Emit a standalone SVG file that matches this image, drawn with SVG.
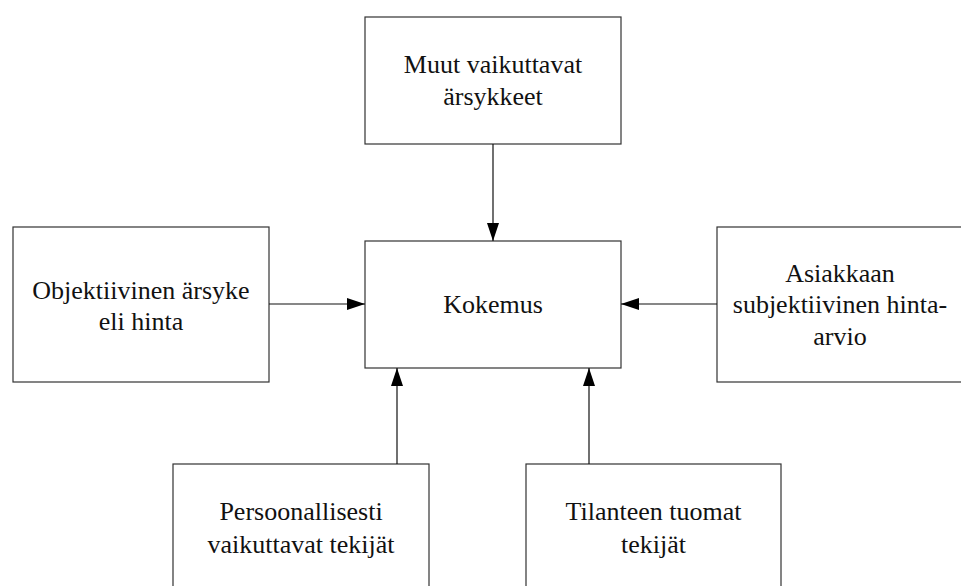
<svg xmlns="http://www.w3.org/2000/svg" width="961" height="586" viewBox="0 0 961 586">
<style>
.box{fill:#fff;stroke:#333;stroke-width:1.2}
.lbl{font-family:"Liberation Serif","Times New Roman",serif;font-size:26px;fill:#111;text-anchor:middle}
.con{stroke:#111;stroke-width:1.2;fill:none}
</style>
<defs>
<marker id="ah" markerWidth="18" markerHeight="12" refX="18" refY="6" orient="auto" markerUnits="userSpaceOnUse">
<path d="M0,0 L18,6 L0,12 Z" fill="#000"/>
</marker>
</defs>
<rect width="961" height="586" fill="#fff"/>
<g id="muut">
<rect class="box" x="365" y="17" width="256" height="127"/>
<text class="lbl" x="493" y="73">Muut vaikuttavat</text>
<text class="lbl" x="493" y="105">ärsykkeet</text>
</g>
<g id="kokemus">
<rect class="box" x="365" y="241" width="256" height="127"/>
<text class="lbl" x="493" y="313">Kokemus</text>
</g>
<g id="objektiivinen">
<rect class="box" x="13" y="227" width="256" height="155"/>
<text class="lbl" x="141" y="299">Objektiivinen ärsyke</text>
<text class="lbl" x="141" y="330">eli hinta</text>
</g>
<g id="asiakkaan">
<rect class="box" x="717" y="227" width="256" height="155"/>
<text class="lbl" x="840" y="282">Asiakkaan</text>
<text class="lbl" x="840" y="313">subjektiivinen hinta-</text>
<text class="lbl" x="840" y="345">arvio</text>
</g>
<g id="persoonallisesti">
<rect class="box" x="173" y="464" width="256" height="140"/>
<text class="lbl" x="301" y="520">Persoonallisesti</text>
<text class="lbl" x="301" y="553">vaikuttavat tekijät</text>
</g>
<g id="tilanteen">
<rect class="box" x="526" y="464" width="255" height="140"/>
<text class="lbl" x="653.5" y="520">Tilanteen tuomat</text>
<text class="lbl" x="653.5" y="553">tekijät</text>
</g>
<g id="connectors">
<line class="con" x1="493" y1="144" x2="493" y2="241" marker-end="url(#ah)"/>
<line class="con" x1="269" y1="304" x2="365" y2="304" marker-end="url(#ah)"/>
<line class="con" x1="717" y1="304" x2="621" y2="304" marker-end="url(#ah)"/>
<line class="con" x1="397" y1="464" x2="397" y2="368" marker-end="url(#ah)"/>
<line class="con" x1="589" y1="464" x2="589" y2="368" marker-end="url(#ah)"/>
</g>
</svg>
